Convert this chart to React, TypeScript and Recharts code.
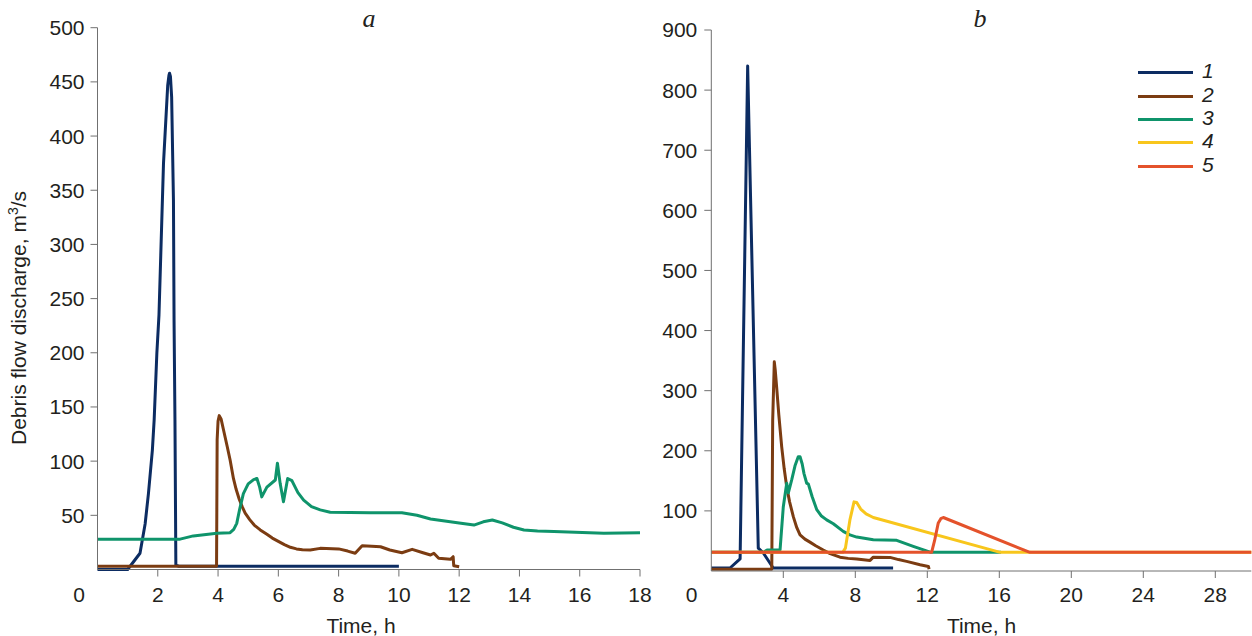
import React from 'react';
import { LineChart, Line, XAxis, YAxis, Legend } from 'recharts';

// ---------- tick labels ----------
const aTicksX = [0, 2, 4, 6, 8, 10, 12, 14, 16, 18];
const aTicksY = [50, 100, 150, 200, 250, 300, 350, 400, 450, 500];
const bTicksX = [0, 4, 8, 12, 16, 20, 24, 28];
const bTicksY = [100, 200, 300, 400, 500, 600, 700, 800, 900];

const seriesNames = ['1', '2', '3', '4', '5'];
const seriesColors = ['#0c2c62', '#7b3c12', '#0f946b', '#f8c61c', '#e4522b'];

// ---------- panel a: [time h, discharge m3/s] ----------
const aSeries1: [number, number][] = [
  [0, 0], [1.0, 0], [1.41, 15], [1.58, 42], [1.69, 70], [1.82, 110], [1.88, 138], [1.97, 200],
  [2.04, 235], [2.19, 375], [2.33, 447], [2.37, 456], [2.39, 458], [2.42, 455], [2.46, 436],
  [2.52, 341], [2.54, 230], [2.57, 138], [2.6, 4], [2.7, 3], [10.0, 3],
];
const aSeries2: [number, number][] = [
  [0, 3], [3.95, 3], [3.97, 120], [4.0, 137], [4.04, 142], [4.1, 139], [4.18, 129], [4.3, 114],
  [4.4, 101], [4.51, 84], [4.6, 74], [4.7, 65], [4.8, 58], [4.9, 52], [5.05, 46], [5.2, 41],
  [5.4, 36.5], [5.62, 32.5], [5.8, 29], [6.0, 26], [6.2, 23], [6.4, 20.5], [6.6, 19], [6.8, 18.3],
  [7.06, 18], [7.39, 19.5], [8.0, 19], [8.3, 17], [8.55, 15], [8.78, 22], [9.1, 21.5], [9.39, 21],
  [9.7, 18], [10.1, 15.5], [10.44, 18.6], [10.8, 15.5], [11.05, 13.4], [11.16, 15], [11.32, 10.3],
  [11.71, 9.4], [11.8, 11.8], [11.82, 3.5], [12.0, 2.6],
];
const aSeries3: [number, number][] = [
  [0, 28], [2.74, 28], [3.18, 31], [3.96, 33.4], [4.4, 34], [4.52, 37], [4.62, 42.6], [4.72, 56],
  [4.84, 70], [5.0, 79], [5.18, 83], [5.29, 84], [5.38, 76], [5.45, 67], [5.62, 76], [5.9, 82.6],
  [5.97, 98], [6.06, 79.5], [6.17, 62.6], [6.31, 84], [6.45, 82], [6.65, 71], [6.84, 64],
  [7.1, 58], [7.39, 55], [7.72, 52.8], [9.05, 52.4], [10.1, 52.4], [10.6, 50], [11.05, 46.6],
  [12.0, 43], [12.49, 41], [12.8, 44], [13.1, 45.7], [13.43, 43], [13.8, 39], [14.15, 36.5],
  [14.6, 35.5], [15.14, 35], [16.8, 33.4], [18, 34],
];

// ---------- panel b ----------
const bSeries1: [number, number][] = [
  [0, 5], [1.04, 5], [1.6, 20], [2.02, 840], [2.61, 38], [2.89, 30], [3.44, 5], [10.1, 5],
];
const bSeries2: [number, number][] = [
  [0, 3], [3.36, 3], [3.41, 250], [3.5, 348], [3.55, 335], [3.63, 306], [3.75, 260], [3.91, 207],
  [4.05, 170], [4.19, 140], [4.35, 115], [4.56, 90], [4.75, 72], [4.93, 60], [5.2, 53], [5.48, 48],
  [5.8, 42], [6.22, 35], [6.6, 29], [7.15, 23], [7.6, 21], [8.08, 20], [8.82, 17.6], [9.0, 23],
  [9.93, 22.6], [10.4, 19], [10.85, 16], [11.6, 10.5], [12.06, 7.6], [12.1, 3],
];
const bSeries3: [number, number][] = [
  [0, 31], [2.9, 31], [3.1, 35], [3.82, 35], [4.0, 107], [4.19, 146], [4.28, 130], [4.47, 152],
  [4.65, 175], [4.83, 190], [4.93, 190], [5.05, 178], [5.15, 162], [5.3, 146], [5.39, 145],
  [5.6, 124], [5.86, 102], [6.1, 92], [6.41, 85], [6.78, 78.5], [7.33, 66], [7.7, 60],
  [8.08, 56.4], [9.0, 52], [10.3, 51], [11.22, 41], [12.2, 31], [16.1, 31],
];
const bSeries4: [number, number][] = [
  [0, 31], [7.3, 31], [7.45, 38], [7.7, 85], [7.93, 115], [8.08, 114], [8.3, 103], [8.6, 95],
  [9.0, 89], [16.05, 31], [30, 31],
];
const bSeries5: [number, number][] = [
  [0, 31], [12.24, 31], [12.4, 50], [12.61, 80], [12.75, 87], [12.89, 89], [17.7, 31], [30, 31],
];

const toPts = (arr: [number, number][]) => arr.map(([t, q]) => ({ t, q }));

const AXIS = '#707070';
const TEXT = '#231f20';
const SANS = '"Liberation Sans", Arial, sans-serif';
const SERIF = '"Liberation Serif", "Times New Roman", serif';

const XTick = (props: any) => {
  const { x, y, payload, zeroShift, base } = props;
  const v = payload.value;
  return (
    <g>
      {v !== 0 && <line x1={x} x2={x} y1={y} y2={y + 7} stroke={AXIS} strokeWidth={1} />}
      <text x={x + (v === 0 ? zeroShift : 0)} y={y + base} textAnchor="middle" fontSize={21} fill={TEXT} fontFamily={SANS}>
        {v}
      </text>
    </g>
  );
};

const LegendBox = () => (
  <div style={{ display: 'flex', flexDirection: 'column', fontFamily: SANS }}>
    {seriesNames.map((n, i) => (
      <div key={n} style={{ display: 'flex', alignItems: 'center', height: 23.33 }}>
        <div style={{ width: 55, height: 3, background: seriesColors[i] }} />
        <span style={{ marginLeft: 9, fontStyle: 'italic', fontSize: 21, lineHeight: '23.33px', color: TEXT, position: 'relative', top: -2 }}>
          {n}
        </span>
      </div>
    ))}
  </div>
);

export default function App() {
  const aData = [aSeries1, aSeries2, aSeries3];
  const bData = [bSeries1, bSeries2, bSeries3, bSeries4, bSeries5];
  return (
    <div style={{ position: 'absolute', left: 0, top: 0, width: 1252, height: 636, background: '#fff', fontFamily: SANS }}>
      <div style={{ position: 'absolute', left: 0, top: 0 }}>
        <LineChart width={660} height={636} margin={{ top: 27.7, right: 20, bottom: 0, left: 0 }}>
          <XAxis
            type="number"
            dataKey="t"
            domain={[0, 18]}
            ticks={aTicksX}
            interval={0}
            tickLine={false}
            tickSize={0}
            tickMargin={0}
            height={66.5}
            axisLine={{ stroke: AXIS }}
            tick={(p: any) => <XTick {...p} zeroShift={-18.5} base={32.2} />}
            label={{
              content: () => (
                <text x={361} y={633} textAnchor="middle" fontSize={21} fill={TEXT} fontFamily={SANS}>
                  Time, h
                </text>
              ),
            }}
          />
          <YAxis
            type="number"
            domain={[0, 500]}
            ticks={aTicksY}
            interval={0}
            width={97.5}
            tickSize={7}
            tickMargin={6}
            axisLine={{ stroke: AXIS }}
            tickLine={{ stroke: AXIS }}
            tick={{ fontSize: 21, fill: TEXT, fontFamily: SANS }}
            label={{
              content: () => (
                <g>
                  <text
                    x={26}
                    y={318}
                    transform="rotate(-90, 26, 318)"
                    textAnchor="middle"
                    fontSize={21}
                    fill={TEXT}
                    fontFamily={SANS}
                  >
                    Debris flow discharge, m<tspan dy={-8} fontSize={14}>3</tspan>
                    <tspan dy={8}>/s</tspan>
                  </text>
                  <text x={369} y={26.5} textAnchor="middle" fontSize={26} fontStyle="italic" fill={TEXT} fontFamily={SERIF}>
                    a
                  </text>
                </g>
              ),
            }}
          />
          {aData.map((s, i) => (
            <Line
              key={i}
              data={toPts(s)}
              dataKey="q"
              type="linear"
              stroke={seriesColors[i]}
              strokeWidth={3}
              dot={false}
              activeDot={false}
              strokeLinejoin="round"
              isAnimationActive={false}
            />
          ))}
        </LineChart>
      </div>
      <div style={{ position: 'absolute', left: 620, top: 0 }}>
        <LineChart width={632} height={636} margin={{ top: 30, right: 0.7, bottom: 0, left: 0 }}>
          <XAxis
            type="number"
            dataKey="t"
            domain={[0, 30]}
            ticks={bTicksX}
            interval={0}
            tickLine={false}
            tickSize={0}
            tickMargin={0}
            height={65}
            axisLine={{ stroke: AXIS }}
            tick={(p: any) => <XTick {...p} zeroShift={-19.6} base={30.7} />}
            label={{
              content: () => (
                <text x={361.5} y={633} textAnchor="middle" fontSize={21} fill={TEXT} fontFamily={SANS}>
                  Time, h
                </text>
              ),
            }}
          />
          <YAxis
            type="number"
            domain={[0, 900]}
            ticks={bTicksY}
            interval={0}
            width={91.3}
            tickSize={7}
            tickMargin={7}
            axisLine={{ stroke: AXIS }}
            tickLine={{ stroke: AXIS }}
            tick={{ fontSize: 21, fill: TEXT, fontFamily: SANS }}
            label={{
              content: () => (
                <text x={360} y={26.5} textAnchor="middle" fontSize={26} fontStyle="italic" fill={TEXT} fontFamily={SERIF}>
                  b
                </text>
              ),
            }}
          />
          <Legend
            layout="vertical"
            align="center"
            verticalAlign="middle"
            content={() => <LegendBox />}
            wrapperStyle={{ left: 518, top: 61.3, width: 100, height: 120 }}
          />
          {bData.map((s, i) => (
            <Line
              key={i}
              name={seriesNames[i]}
              data={toPts(s)}
              dataKey="q"
              type="linear"
              stroke={seriesColors[i]}
              strokeWidth={3}
              dot={false}
              activeDot={false}
              strokeLinejoin="round"
              isAnimationActive={false}
            />
          ))}
        </LineChart>
      </div>
    </div>
  );
}
